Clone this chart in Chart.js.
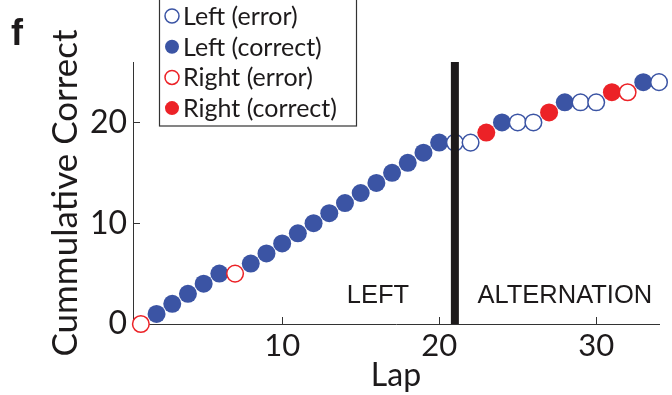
<!DOCTYPE html>
<html>
<head>
<meta charset="utf-8">
<script src="https://cdn.jsdelivr.net/npm/chart.js@4.4.1/dist/chart.umd.min.js"></script>
<style>
  html, body { margin: 0; padding: 0; background: #fff; }
  #wrap { width: 672px; height: 395px; position: relative; }
</style>
</head>
<body>
<div id="wrap"><canvas id="myChart"></canvas></div>
<script>
// Lap-by-lap record of one session
const laps = [1, 2, 3, 4, 5, 6, 7, 8, 9, 10, 11, 12, 13, 14, 15, 16, 17,
              18, 19, 20, 21, 22, 23, 24, 25, 26, 27, 28, 29, 30, 31, 32, 33, 34];
const cumulativeCorrect = [0, 1, 2, 3, 4, 5, 5, 6, 7, 8, 9, 10, 11, 12, 13, 14, 15,
                           16, 17, 18, 18, 18, 19, 20, 20, 20, 21, 22, 22, 22, 23, 23, 24, 24];
const lapSide = ['R', 'L', 'L', 'L', 'L', 'L', 'R', 'L', 'L', 'L', 'L', 'L', 'L', 'L', 'L', 'L', 'L',
                 'L', 'L', 'L', 'L', 'L', 'R', 'L', 'L', 'L', 'R', 'L', 'L', 'L', 'R', 'R', 'L', 'L'];
const lapCorrect = [false, true, true, true, true, true, false, true, true, true, true, true, true, true, true, true, true,
                    true, true, true, false, false, true, true, false, false, true, true, false, false, true, false, true, false];

const legendLabels = ['Left (error)', 'Left (correct)', 'Right (error)', 'Right (correct)'];
const legendSides = ['L', 'L', 'R', 'R'];
const legendCorrect = [false, true, false, true];

const xTickValues = [10, 20, 30];
const yTickValues = [0, 10, 20];

// task switch happens at lap 21
const switchLap = 21;
const phaseLabels = ['LEFT', 'ALTERNATION'];
const phaseLabelX = [16.1, 28.0];
const phaseLabelY = [2.1, 2.1];

const sideColor = { L: '#3b54a4', R: '#ec2227' };
const inkColor = '#1d1a1b';
const tickFont = 'Lato';

function drawMarker(ctx, x, y, side, correct, r) {
    ctx.beginPath();
    ctx.arc(x, y, r, 0, Math.PI * 2);
    if (correct) {
        ctx.fillStyle = sideColor[side];
        ctx.fill();
    } else {
        ctx.fillStyle = '#fff';
        ctx.fill();
        ctx.lineWidth = 1.5;
        ctx.strokeStyle = sideColor[side];
        ctx.stroke();
    }
}

const decorations = {
    id: 'decorations',
    beforeDatasetsDraw(chart) {
        // inward tick marks
        const { ctx, chartArea, scales } = chart;
        ctx.save();
        ctx.strokeStyle = '#333';
        ctx.lineWidth = 1;
        xTickValues.forEach(v => {
            const px = Math.round(scales.x.getPixelForValue(v)) + 0.5;
            ctx.beginPath();
            ctx.moveTo(px, chartArea.bottom);
            ctx.lineTo(px, chartArea.bottom - 7);
            ctx.stroke();
        });
        yTickValues.forEach(v => {
            const py = Math.round(scales.y.getPixelForValue(v)) + 0.5;
            ctx.beginPath();
            ctx.moveTo(chartArea.left, py);
            ctx.lineTo(chartArea.left + 7, py);
            ctx.stroke();
        });
        // phase labels
        ctx.fillStyle = inkColor;
        ctx.font = '25.5px "Liberation Sans"';
        ctx.textAlign = 'center';
        ctx.textBaseline = 'alphabetic';
        phaseLabels.forEach((t, i) => {
            ctx.fillText(t, scales.x.getPixelForValue(phaseLabelX[i]), scales.y.getPixelForValue(phaseLabelY[i]));
        });
        ctx.restore();
    },
    afterDatasetsDraw(chart) {
        const { ctx, chartArea, scales } = chart;
        ctx.save();
        // switch marker
        const sx = scales.x.getPixelForValue(switchLap);
        ctx.fillStyle = inkColor;
        ctx.fillRect(sx - 4, chartArea.top, 8, chartArea.bottom - chartArea.top);

        // legend box
        ctx.strokeStyle = '#333';
        ctx.lineWidth = 1.2;
        ctx.fillStyle = '#fff';
        ctx.fillRect(159, -2, 197, 128);
        ctx.strokeRect(159.5, -2, 197, 128);
        ctx.font = '25px ' + tickFont;
        ctx.textAlign = 'left';
        ctx.textBaseline = 'middle';
        legendLabels.forEach((label, i) => {
            const y = 16 + i * 30.7;
            drawMarker(ctx, 172, y, legendSides[i], legendCorrect[i], 7);
            ctx.fillStyle = inkColor;
            ctx.fillText(label, 183, y + 1);
        });

        // panel letter
        ctx.fillStyle = inkColor;
        ctx.font = 'bold 36px "Liberation Sans"';
        ctx.textAlign = 'left';
        ctx.textBaseline = 'alphabetic';
        ctx.fillText('f', 11, 45);
        ctx.restore();
    }
};

const chartData = {
    type: 'scatter',
    data: {
        datasets: [{
            label: 'Laps',
            data: laps.map((lap, i) => ({ x: lap, y: cumulativeCorrect[i] })),
            showLine: false,
            pointRadius: c => lapCorrect[c.dataIndex] ? 9 : 8.3,
            pointHoverRadius: c => lapCorrect[c.dataIndex] ? 9 : 8.3,
            pointBackgroundColor: c => lapCorrect[c.dataIndex] ? sideColor[lapSide[c.dataIndex]] : '#fff',
            pointBorderColor: c => sideColor[lapSide[c.dataIndex]],
            pointBorderWidth: c => lapCorrect[c.dataIndex] ? 0 : 1.5,
            clip: false
        }]
    },
    options: {
        responsive: false,
        animation: false,
        layout: { padding: { top: 62, right: 13, left: 0, bottom: 0 } },
        plugins: { legend: { display: false }, tooltip: { enabled: false } },
        scales: {
            x: {
                type: 'linear',
                min: 0.5,
                max: 34,
                afterBuildTicks: s => { s.ticks = xTickValues.map(v => ({ value: v })); },
                afterFit: s => { s.height = 71; },
                grid: { display: false, drawTicks: false },
                border: { display: true, color: '#333', width: 1 },
                ticks: { color: inkColor, font: { family: tickFont, size: 31 }, padding: 3, maxRotation: 0 },
                title: { display: true, text: 'Lap', color: inkColor, font: { family: tickFont, size: 32 }, padding: { top: -6, bottom: 0 } }
            },
            y: {
                min: 0,
                max: 26,
                afterBuildTicks: s => { s.ticks = yTickValues.map(v => ({ value: v })); },
                afterFit: s => { s.width = 133; },
                grid: { display: false, drawTicks: false },
                border: { display: true, color: '#333', width: 1 },
                ticks: { color: inkColor, font: { family: tickFont, size: 32 }, padding: 6 },
                title: { display: true, text: 'Cummulative Correct', color: inkColor, font: { family: tickFont, size: 35 }, padding: { top: 45, bottom: 0 } }
            }
        }
    },
    plugins: [decorations]
};

const canvas = document.getElementById('myChart');
canvas.width = 672;
canvas.height = 395;
let myChart = new Chart(canvas.getContext('2d'), chartData);
</script>
</body>
</html>
